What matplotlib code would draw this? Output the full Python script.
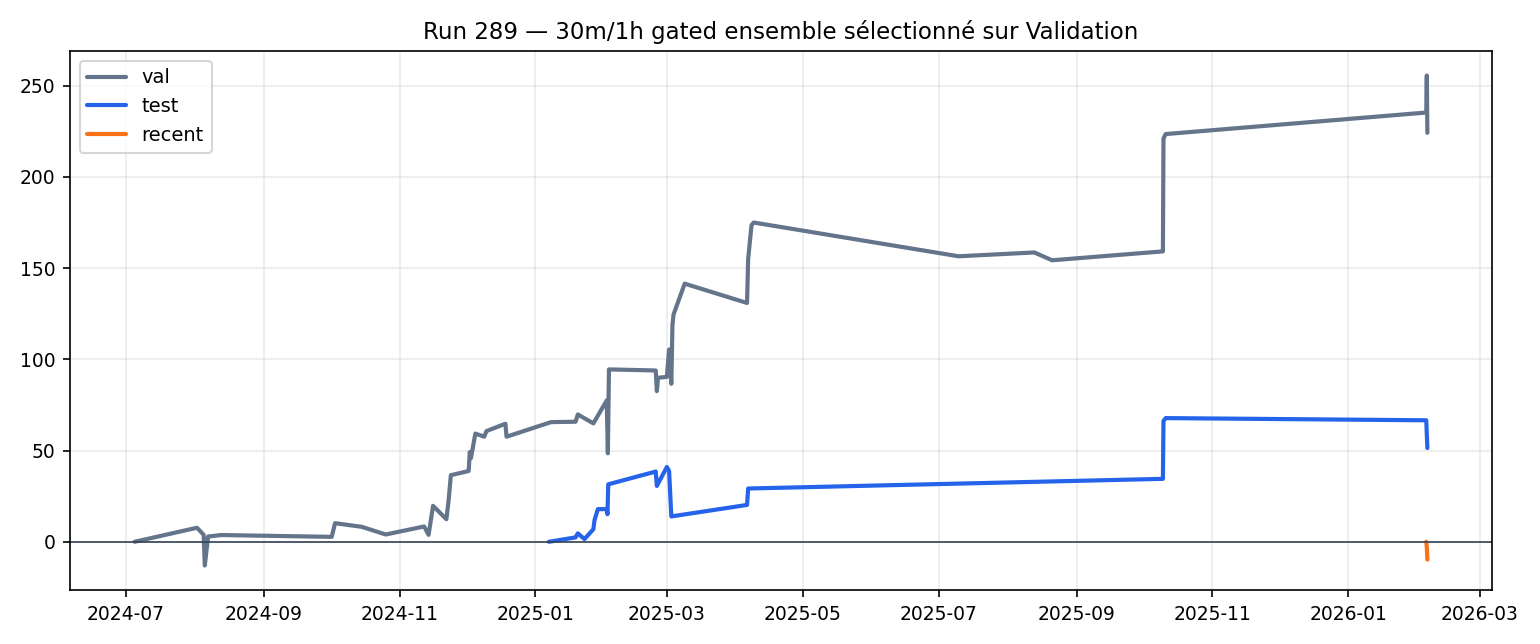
import matplotlib
matplotlib.use("Agg")
import matplotlib.pyplot as plt
import pandas as pd

# cumulative PnL per split
val_dates = [
    "2024-07-05", "2024-08-02", "2024-08-05 00:00", "2024-08-05 12:00",
    "2024-08-07", "2024-08-13", "2024-10-01 12:00", "2024-10-03",
    "2024-10-15", "2024-10-25 18:00", "2024-11-12", "2024-11-14",
    "2024-11-16", "2024-11-22", "2024-11-23", "2024-11-24",
    "2024-12-02 00:00", "2024-12-02 12:00", "2024-12-03", "2024-12-05",
    "2024-12-09", "2024-12-10", "2024-12-18 12:00", "2024-12-19",
    "2025-01-08", "2025-01-19", "2025-01-20", "2025-01-27",
    "2025-02-02 00:00", "2025-02-02 12:00", "2025-02-03", "2025-02-24 00:00",
    "2025-02-24 12:00", "2025-02-25", "2025-03-01", "2025-03-02",
    "2025-03-03 00:00", "2025-03-03 12:00", "2025-03-04", "2025-03-09",
    "2025-04-06 00:00", "2025-04-06 12:00", "2025-04-08", "2025-04-09",
    "2025-07-10", "2025-08-13", "2025-08-21", "2025-10-09 18:00",
    "2025-10-10", "2025-10-11", "2026-02-05 00:00", "2026-02-05 06:00",
    "2026-02-05 12:00",
]
val_pnl = [
    0.0, 7.7, 3.8, -13.0,
    2.9, 3.7, 2.7, 10.2,
    8.2, 4.0, 8.4, 3.8,
    19.7, 12.4, 22.8, 36.5,
    38.8, 49.2, 45.8, 59.3,
    57.6, 60.7, 64.7, 57.6,
    65.6, 65.8, 69.8, 64.9,
    77.5, 48.5, 94.5, 93.9,
    82.6, 89.9, 90.4, 105.4,
    86.6, 118.7, 124.6, 141.5,
    130.9, 155.0, 173.5, 175.0,
    156.5, 158.6, 154.3, 159.2,
    221.0, 223.5, 235.3, 255.6,
    224.2,
]

test_dates = [
    "2025-01-07", "2025-01-19", "2025-01-20", "2025-01-23",
    "2025-01-27 00:00", "2025-01-27 12:00", "2025-01-29", "2025-02-02 00:00",
    "2025-02-02 08:00", "2025-02-02 16:00", "2025-02-24 00:00", "2025-02-24 12:00",
    "2025-03-01", "2025-03-02", "2025-03-03", "2025-04-06 00:00",
    "2025-04-06 12:00", "2025-10-09 18:00", "2025-10-10", "2025-10-11",
    "2026-02-05 00:00", "2026-02-05 12:00",
]
test_pnl = [
    0.0, 2.4, 4.6, 1.5,
    6.9, 11.8, 17.9, 17.9,
    15.1, 31.5, 38.5, 30.6,
    41.0, 38.8, 13.9, 20.2,
    29.2, 34.5, 66.2, 67.8,
    66.6, 51.4,
]

recent_dates = ["2026-02-05 00:00", "2026-02-05 06:00", "2026-02-05 12:00"]
recent_pnl = [0.0, -3.0, -9.8]


def to_dt(xs):
    return pd.to_datetime(xs, format="mixed")


fig = plt.figure(figsize=(1540 / 150, 644 / 150), dpi=150)
ax = fig.add_axes([70 / 1540, 1 - 590 / 644, (1492 - 70) / 1540, (590 - 51) / 644])

style = dict(lw=2.0, solid_capstyle="round", solid_joinstyle="round")
ax.plot(to_dt(val_dates), val_pnl, color="#64748b", label="val", **style)
ax.plot(to_dt(test_dates), test_pnl, color="#2563eb", label="test", **style)
ax.plot(to_dt(recent_dates), recent_pnl, color="#f97316", label="recent", **style)
ax.axhline(0, color="#334155", lw=0.8)

ax.grid(True, alpha=0.25)
ax.tick_params(labelsize=9)
ax.set_title("Run 289 — 30m/1h gated ensemble sélectionné sur Validation", fontsize=11)
ax.legend(loc="upper left", fontsize=9.3)

fig.savefig("out.png", dpi=150)
